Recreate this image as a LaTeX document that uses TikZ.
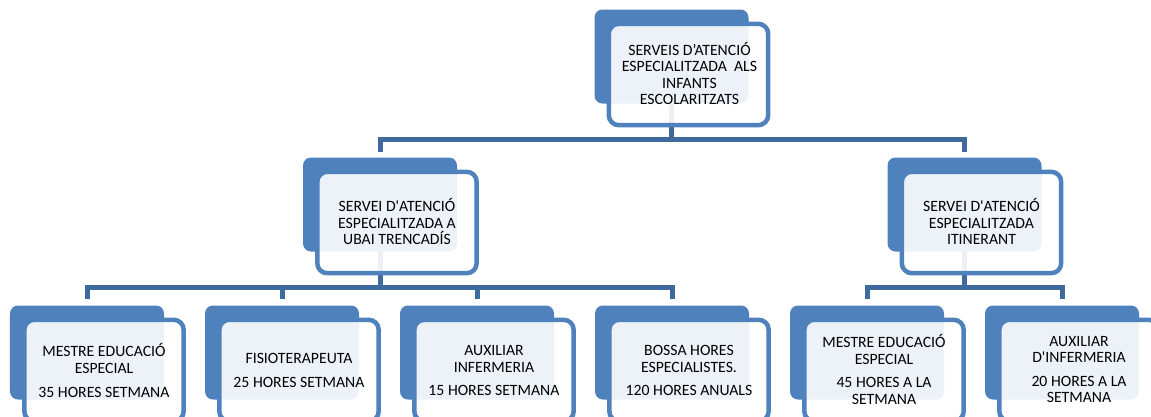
\documentclass[tikz,border=0pt]{standalone}
\usepackage{fontspec}
\setmainfont{Carlito}[Ligatures=TeXOff]
\usetikzlibrary{calc}
\usetikzlibrary{backgrounds}

\definecolor{boxblue}{HTML}{4F81BD}
\definecolor{linkblue}{HTML}{3E6A9E}

\begin{document}
\begin{tikzpicture}[x=1bp, y=-1bp,
    backbox/.style={rectangle, fill=boxblue, rounded corners=8bp, minimum width=154bp, minimum height=94bp, inner sep=0pt},
    frontbox/.style={draw=boxblue, line width=4.5bp, fill=white, fill opacity=0.9, rounded corners=10bp},
    boxtext/.style={align=center, font=\fontsize{15.8}{16.7}\selectfont, text=black, inner sep=0pt},
    link/.style={draw=linkblue, line width=5bp}]
    \useasboundingbox (0,0) rectangle (1151,416);

    \node[backbox] (top) at (671.5,56.5) {};
    \node[backbox] (ubai) at (380,204.5) {};
    \node[backbox] (itin) at (964.5,204.5) {};
    \node[backbox] (mee35) at (87,352.5) {};
    \node[backbox] (fisio) at (282,352.5) {};
    \node[backbox] (aux15) at (477,352.5) {};
    \node[backbox] (bossa) at (672,352.5) {};
    \node[backbox] (mee45) at (867,352.5) {};
    \node[backbox] (aux20) at (1062,352.5) {};

    \foreach \n in {top, ubai, itin, mee35, fisio, aux15, bossa, mee45, aux20}
      \draw[frontbox] ($(\n.north west)+(14.5,14.5)$) rectangle ($(\n.south east)+(19.5,21.5)$);

    \node[boxtext] (top-t) at ($(top.center)+(18,17)$) {SERVEIS D’ATENCIÓ\\ESPECIALITZADA~~ALS\\INFANTS\\ESCOLARITZATS};
    \node[boxtext] (ubai-t) at ($(ubai.center)+(17,17)$) {SERVEI D'ATENCIÓ\\ESPECIALITZADA A\\UBAI TRENCADÍS};
    \node[boxtext] (itin-t) at ($(itin.center)+(17,17)$) {SERVEI D'ATENCIÓ\\ESPECIALITZADA\\ITINERANT};
    \node[boxtext] (mee35-t) at ($(mee35.center)+(17,18)$) {MESTRE EDUCACIÓ\\ESPECIAL\\[7bp]35 HORES SETMANA};
    \node[boxtext] (fisio-t) at ($(fisio.center)+(17,18)$) {FISIOTERAPEUTA\\[7bp]25 HORES SETMANA};
    \node[boxtext] (aux15-t) at ($(aux15.center)+(17,18)$) {AUXILIAR\\INFERMERIA\\[7bp]15 HORES SETMANA};
    \node[boxtext] (bossa-t) at ($(bossa.center)+(17,18)$) {BOSSA HORES\\ESPECIALISTES.\\[7bp]120 HORES ANUALS};
    \node[boxtext] (mee45-t) at ($(mee45.center)+(17,17)$) {MESTRE EDUCACIÓ\\ESPECIAL\\[7bp]45 HORES A LA\\SETMANA};
    \node[boxtext] (aux20-t) at ($(aux20.center)+(17,17)$) {AUXILIAR\\D'INFERMERIA\\[7bp]20 HORES A LA\\SETMANA};

    \coordinate (busA) at (0,139.5);
    \coordinate (busB) at (0,287.5);

    \begin{scope}[on background layer]
      \draw[link] (top.south) -- (top.south |- busA);
      \draw[link, shorten <=5bp, shorten >=5bp] (ubai.north) -- (ubai.north |- busA) -- (itin.north |- busA) -- (itin.north);
      \draw[link] (ubai.south) -- (ubai.south |- busB);
      \draw[link, shorten <=6bp, shorten >=6bp] (mee35.north) -- (mee35.north |- busB) -- (bossa.north |- busB) -- (bossa.north);
      \draw[link, shorten <=6bp] (fisio.north) -- (fisio.north |- busB);
      \draw[link, shorten <=6bp] (aux15.north) -- (aux15.north |- busB);
      \draw[link] (itin.south) -- (itin.south |- busB);
      \draw[link, shorten <=6bp, shorten >=6bp] (mee45.north) -- (mee45.north |- busB) -- (aux20.north |- busB) -- (aux20.north);
    \end{scope}
  \end{tikzpicture}
\end{document}
